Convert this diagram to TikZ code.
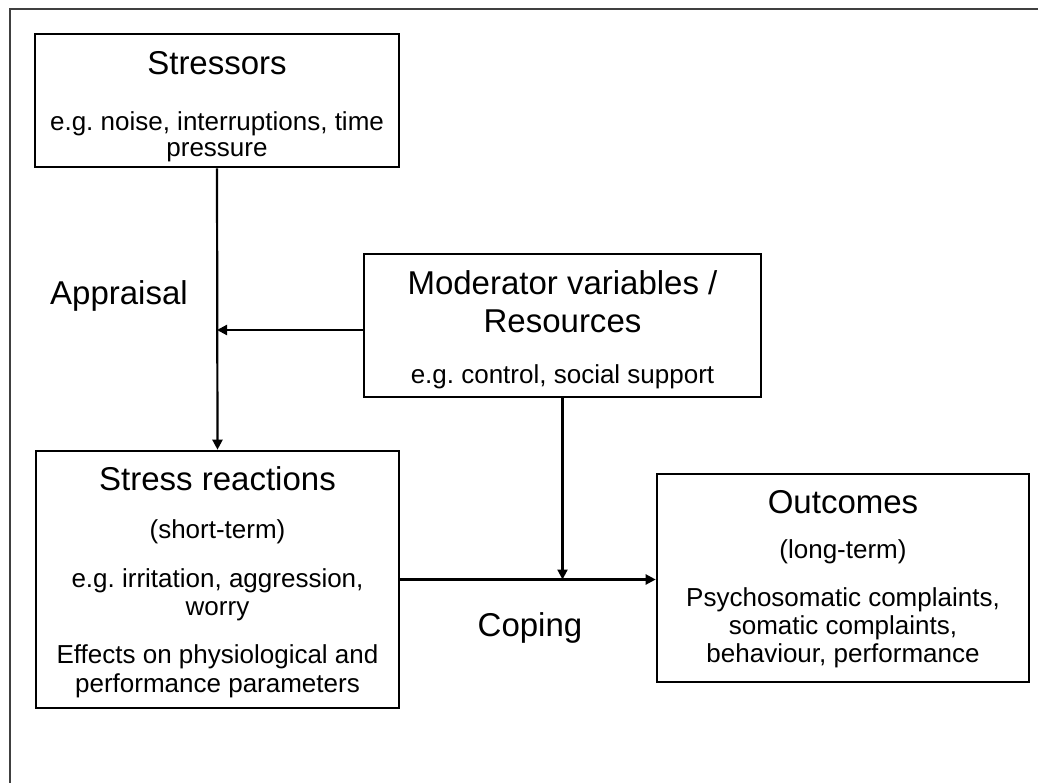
\documentclass[tikz,border=0pt]{standalone}
\usepackage{fontspec}
\setmainfont{Liberation Sans}
\usetikzlibrary{arrows.meta}
\frenchspacing
\begin{document}
\begin{tikzpicture}[x=1pt,y=-1pt,
  box/.style={draw, line width=2.6pt, rectangle, inner sep=0pt},
  conn/.style={line width=2.2pt, -{Triangle[width=10pt,length=10pt]}},
  heading/.style={anchor=base, inner sep=0pt, font=\fontsize{33}{38}\selectfont},
  body/.style={anchor=base, inner sep=0pt, font=\fontsize{26}{30}\selectfont},
  label/.style={anchor=base west, inner sep=0pt, font=\fontsize{33}{38}\selectfont}]
\useasboundingbox (0,0) rectangle (1038,783);
% page frame (top and left edges)
\draw[line width=2pt, black!75] (1038,9) -- (10,9) -- (10,783);

% boxes
\node[box, minimum width=364pt, minimum height=133pt] (stressors) at (217,100.5) {};
\node[box, minimum width=397pt, minimum height=143pt] (moderator) at (562.5,325.5) {};
\node[box, minimum width=363pt, minimum height=257pt] (reactions) at (217.5,579.5) {};
\node[box, minimum width=372pt, minimum height=208pt] (outcomes) at (843,578) {};

% box texts
\node[heading] (stressorsT) at (217,75) {Stressors};
\node[body] (stressorsA) at (217,131) {e.g. noise, interruptions, time};
\node[body] (stressorsB) at (217,157) {pressure};

\node[heading] (moderatorT) at (562.5,295) {Moderator variables /};
\node[heading] (moderatorU) at (562.5,333) {Resources};
\node[body] (moderatorA) at (562.5,383) {e.g. control, social support};

\node[heading] (reactionsT) at (217.5,490) {Stress reactions};
\node[body] (reactionsA) at (217.5,538) {(short-term)};
\node[body] (reactionsB) at (217.5,587) {e.g. irritation, aggression,};
\node[body] (reactionsC) at (217.5,615) {worry};
\node[body] (reactionsD) at (217.5,663) {Effects on physiological and};
\node[body] (reactionsE) at (217.5,692) {performance parameters};

\node[heading] (outcomesT) at (843,513) {Outcomes};
\node[body] (outcomesA) at (843,558) {(long-term)};
\node[body] (outcomesB) at (843,606) {Psychosomatic complaints,};
\node[body] (outcomesC) at (843,634) {somatic complaints,};
\node[body] (outcomesD) at (843,662) {behaviour, performance};

% free labels
\node[label] (appraisal) at (50,305) {Appraisal};
\node[anchor=base, inner sep=0pt, font=\fontsize{33}{38}\selectfont] (coping) at (530,636) {Coping};

% connectors
\coordinate (modrow) at (0,330);
\draw[conn] (stressors.south) -- (reactions.north);
\draw[conn] (moderator.west |- modrow) -- (stressors.south |- modrow);
\draw[conn] (moderator.south) -- (moderator.south |- reactions.east);
\draw[conn] (reactions.east) -- (outcomes.west |- reactions.east);
\end{tikzpicture}
\end{document}
